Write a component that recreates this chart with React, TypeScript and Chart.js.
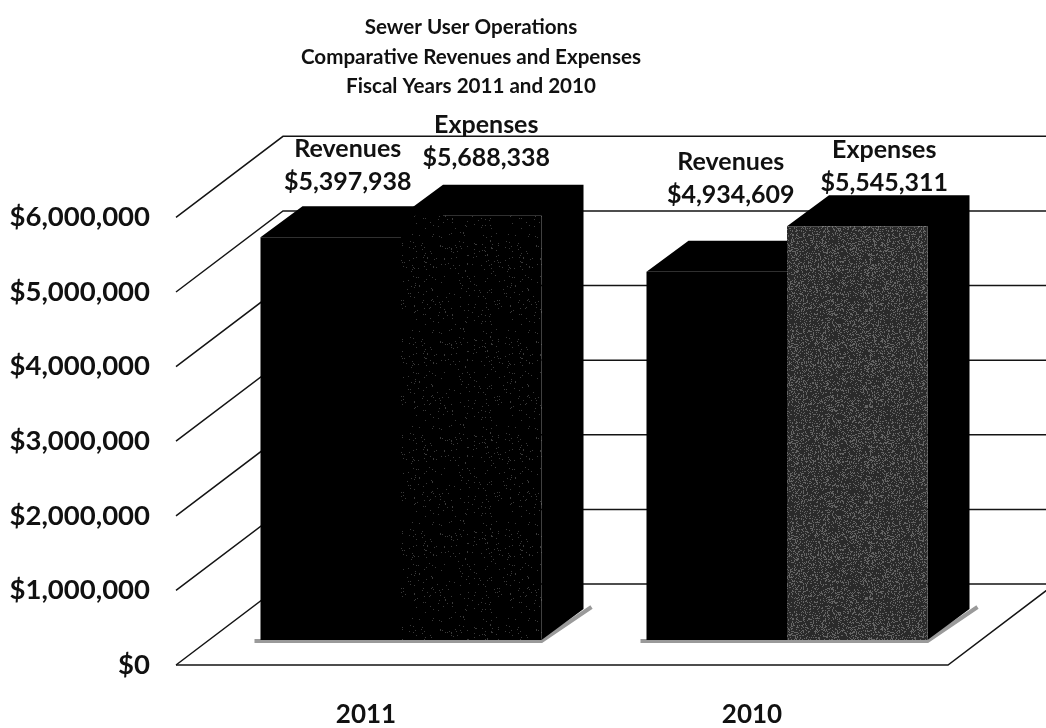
import React, { useEffect, useRef } from "react";
import { Chart, registerables } from "chart.js";

Chart.register(...registerables);

// Fiscal-year figures
const years = ["2011", "2010"];
const seriesNames = ["Revenues", "Expenses"];
const revenues = [5397938, 4934609];
const expenses = [5688338, 5545311];
const titleLines = [
  "Sewer User Operations",
  "Comparative Revenues and Expenses",
  "Fiscal Years 2011 and 2010",
];

// Oblique projection of the floor and walls, and of the bar solids
const WALL_DX = 107;
const WALL_DY = -81;
const BAR_SHIFT_X = 32;
const BAR_SHIFT_Y = -25;
const BAR_DX = 42;
const BAR_DY = -31;
const LINE_COLOR = "#141414";
const TEXT_COLOR = "#111111";
const FONT = "Lato";

// Where each value label sits relative to the top centre of its bar: [series][year]
const labelNudge = [
  [[17, -55], [14, -77]],
  [[15, -58], [27, -43]],
];
const LABEL_LINE_GAP = 33;

// Speckled fill built from a small linear congruential sequence, so it never changes
function speckle(base: string, dot: string, density: number) {
  const size = 96;
  const c = document.createElement("canvas");
  c.width = size;
  c.height = size;
  const g = c.getContext("2d")!;
  g.fillStyle = base;
  g.fillRect(0, 0, size, size);
  g.fillStyle = dot;
  let seed = 12345;
  for (let y = 0; y < size; y++) {
    for (let x = 0; x < size; x++) {
      seed = (seed * 1103515245 + 12345) & 0x7fffffff;
      if ((seed >> 8) % 1000 < density * 1000) g.fillRect(x, y, 1, 1);
    }
  }
  return g.createPattern(c, "repeat")!;
}

const perspectivePlugin = {
  id: "perspective",
  afterLayout(chart: any) {
    // The heading is centred a little left of the plot's middle
    chart.titleBlock.left = 0;
    chart.titleBlock.right = 942;
  },
  beforeDatasetsDraw(chart: any) {
    const { ctx, chartArea, scales } = chart;
    const y = scales.y;
    const w = chartArea.right;
    const l = chartArea.left;

    // Wall and floor lines run from the value axis through the scale's own ticks
    ctx.save();
    ctx.strokeStyle = LINE_COLOR;
    ctx.lineWidth = 1.5;
    y.ticks.forEach((t: any) => {
      const py = y.getPixelForValue(t.value);
      ctx.beginPath();
      ctx.moveTo(l, py);
      ctx.lineTo(l + WALL_DX, py + WALL_DY);
      ctx.lineTo(w + WALL_DX, py + WALL_DY);
      ctx.stroke();
    });
    const floor = y.getPixelForValue(0);
    ctx.beginPath();
    ctx.moveTo(l, floor);
    ctx.lineTo(w, floor);
    ctx.lineTo(w + WALL_DX, floor + WALL_DY);
    ctx.stroke();

    ctx.translate(BAR_SHIFT_X, BAR_SHIFT_Y);

    // Grey contact shadow along the feet of the bars
    const allBars = [0, 1].flatMap((i) => chart.getDatasetMeta(i).data);
    ctx.strokeStyle = "#9a9a9a";
    ctx.lineWidth = 4;
    allBars.forEach((b: any) => {
      const r = b.x + b.width / 2;
      const left = b.x - b.width / 2;
      ctx.beginPath();
      ctx.moveTo(left - 6, b.base + 1);
      ctx.lineTo(r, b.base + 1);
      ctx.lineTo(r + BAR_DX + 8, b.base + BAR_DY - 2);
      ctx.stroke();
    });

    // Top and side faces of each solid, drawn revenues first
    ctx.fillStyle = "#000";
    allBars.forEach((b: any) => {
      const r = b.x + b.width / 2;
      const left = b.x - b.width / 2;
      ctx.beginPath();
      ctx.moveTo(left, b.y);
      ctx.lineTo(left + BAR_DX, b.y + BAR_DY);
      ctx.lineTo(r + BAR_DX, b.y + BAR_DY);
      ctx.lineTo(r + BAR_DX, b.base + BAR_DY);
      ctx.lineTo(r, b.base);
      ctx.lineTo(r, b.y);
      ctx.closePath();
      ctx.fill();
    });
  },
  afterDatasetsDraw(chart: any) {
    const { ctx } = chart;
    ctx.restore();

    // Series name and value above each bar
    ctx.save();
    ctx.fillStyle = TEXT_COLOR;
    ctx.textAlign = "center";
    ctx.textBaseline = "middle";
    ctx.font = `bold 25px ${FONT}`;
    [revenues, expenses].forEach((values, s) => {
      const meta = chart.getDatasetMeta(s);
      values.forEach((v, i) => {
        const b = meta.data[i];
        const [nx, ny] = labelNudge[s][i];
        const x = b.x + BAR_SHIFT_X + nx;
        const yv = b.y + BAR_SHIFT_Y + ny;
        ctx.fillText(seriesNames[s], x, yv - LABEL_LINE_GAP);
        ctx.fillText("$" + v.toLocaleString("en-US"), x, yv);
      });
    });
    ctx.restore();
  },
};

export default function App() {
  const ref = useRef<HTMLCanvasElement>(null);

  useEffect(() => {
    const chart = new Chart(ref.current!, {
      type: "bar",
      data: {
        labels: years,
        datasets: [
          {
            label: seriesNames[0],
            data: revenues,
            backgroundColor: "#000",
            categoryPercentage: 0.728,
            barPercentage: 1,
            clip: false,
          },
          {
            label: seriesNames[1],
            data: expenses,
            backgroundColor: [
              speckle("#000000", "#3a3a3a", 0.03),
              speckle("#2a2a2a", "#646464", 0.25),
            ],
            categoryPercentage: 0.728,
            barPercentage: 1,
            clip: false,
          },
        ],
      },
      options: {
        responsive: false,
        animation: false,
        events: [],
        layout: { padding: { left: 0, right: 98, top: 0, bottom: 0 } },
        plugins: {
          legend: { display: false },
          tooltip: { enabled: false },
          title: {
            display: true,
            text: titleLines,
            color: TEXT_COLOR,
            font: { family: FONT, size: 20.6, weight: "bold", lineHeight: 1.43 },
            padding: { top: 13, bottom: 116 },
          },
        },
        scales: {
          x: {
            grid: { display: false, drawTicks: false },
            border: { display: false },
            ticks: {
              color: TEXT_COLOR,
              padding: 34,
              labelOffset: -3,
              font: { family: FONT, size: 26, weight: "bold" },
            },
            afterFit(scale: any) {
              scale.height = 63;
            },
          },
          y: {
            min: 0,
            max: 6000000,
            grid: { display: false, drawTicks: false },
            border: { display: false },
            ticks: {
              stepSize: 1000000,
              color: TEXT_COLOR,
              padding: 26,
              font: { family: FONT, size: 27.5, weight: "bold" },
              callback: (v: any) => "$" + Number(v).toLocaleString("en-US"),
            },
            afterFit(scale: any) {
              scale.width = 176;
            },
          },
        },
      },
      plugins: [perspectivePlugin],
    } as any);
    return () => chart.destroy();
  }, []);

  return (
    <div style={{ position: "absolute", left: 0, top: 0, width: 1046, height: 728 }}>
      <canvas ref={ref} width={1046} height={728} style={{ display: "block" }} />
    </div>
  );
}
